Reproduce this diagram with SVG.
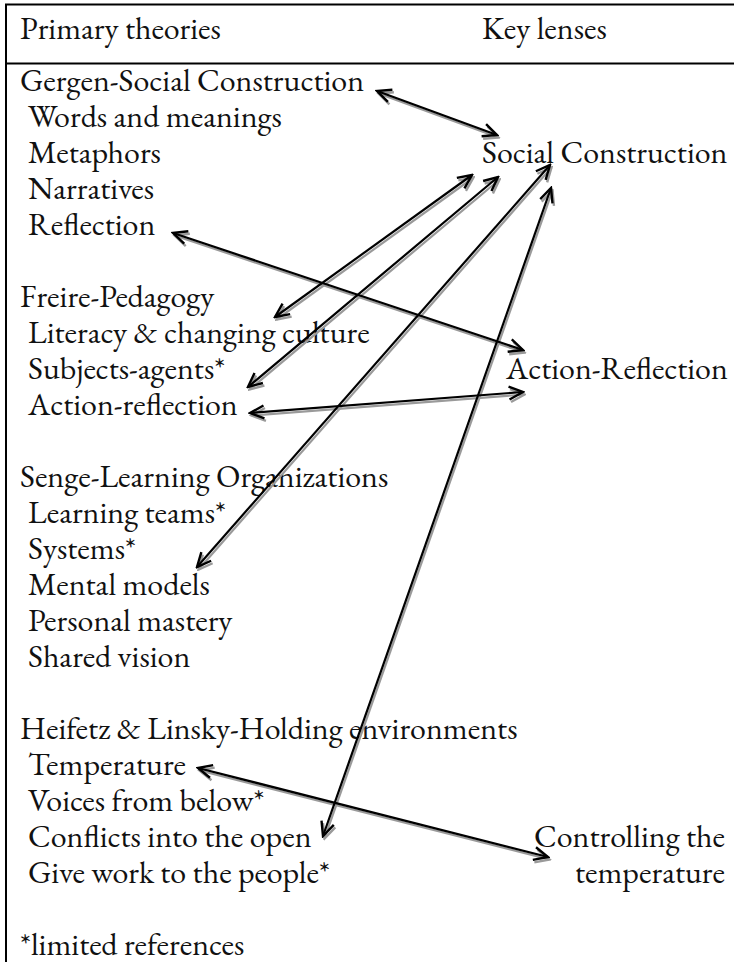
<svg xmlns="http://www.w3.org/2000/svg" width="734" height="962" viewBox="0 0 734 962">
  <style>
    text { font-family: "EB Garamond", "Liberation Serif", serif; font-size: 32px; fill: #111; }
    .rule { stroke: #000; stroke-width: 2; fill: none; }
    .link { stroke: #000; stroke-width: 2.2; fill: none; marker-start: url(#head); marker-end: url(#head); }
    .shade { stroke: #9a9a9a; stroke-width: 2.2; fill: none; marker-start: url(#headShade); marker-end: url(#headShade); }
    .r { text-anchor: end; }
  </style>
  <defs>
    <marker id="head" viewBox="0 0 18 18" refX="16" refY="9" markerWidth="18" markerHeight="18" markerUnits="userSpaceOnUse" orient="auto-start-reverse">
      <path d="M2,2.5 L16,9 L2,15.5" fill="none" stroke="#000" stroke-width="2.4"/>
    </marker>
    <marker id="headShade" viewBox="0 0 18 18" refX="16" refY="9" markerWidth="18" markerHeight="18" markerUnits="userSpaceOnUse" orient="auto-start-reverse">
      <path d="M2,2.5 L16,9 L2,15.5" fill="none" stroke="#9a9a9a" stroke-width="2.4"/>
    </marker>
  </defs>

  <rect width="734" height="962" fill="#fff"/>

  <!-- table rules -->
  <g id="table">
    <line class="rule" x1="5" y1="4.5" x2="734" y2="4.5"/>
    <line class="rule" x1="5" y1="63.5" x2="734" y2="63.5"/>
    <line class="rule" x1="6" y1="4" x2="6" y2="962"/>
  </g>

  <!-- header row -->
  <g id="header">
    <text x="20" y="39">Primary theories</text>
    <text x="482" y="39">Key lenses</text>
  </g>

  <!-- theory groups -->
  <g id="gergen">
    <text x="20" y="91">Gergen-Social Construction</text>
    <text x="28" y="127">Words and meanings</text>
    <text x="28" y="163">Metaphors</text>
    <text x="28" y="199">Narratives</text>
    <text x="28" y="235">Reflection</text>
  </g>
  <g id="freire">
    <text x="20" y="307">Freire-Pedagogy</text>
    <text x="28" y="343">Literacy &amp; changing culture</text>
    <text x="28" y="379">Subjects-agents*</text>
    <text x="28" y="415">Action-reflection</text>
  </g>
  <g id="senge">
    <text x="20" y="487">Senge-Learning Organizations</text>
    <text x="28" y="523">Learning teams*</text>
    <text x="28" y="559">Systems*</text>
    <text x="28" y="595">Mental models</text>
    <text x="28" y="631">Personal mastery</text>
    <text x="28" y="667">Shared vision</text>
  </g>
  <g id="heifetz">
    <text x="20" y="739">Heifetz &amp; Linsky-Holding environments</text>
    <text x="28" y="775">Temperature</text>
    <text x="28" y="811">Voices from below*</text>
    <text x="28" y="847">Conflicts into the open</text>
    <text x="28" y="883">Give work to the people*</text>
  </g>
  <g id="footnote">
    <text x="20" y="955">*limited references</text>
  </g>

  <!-- key lenses -->
  <g id="lens-social">
    <text x="482" y="163">Social Construction</text>
  </g>
  <g id="lens-action">
    <text x="506" y="379">Action-Reflection</text>
  </g>
  <g id="lens-temperature">
    <text class="r" x="725" y="847">Controlling the</text>
    <text class="r" x="725" y="883">temperature</text>
  </g>

  <!-- connectors: shadow copy first, black line on top -->
  <g id="connectors">
    <g transform="translate(1.5,2.5)">
      <line class="shade" x1="377" y1="91" x2="497" y2="135"/>
      <line class="shade" x1="173" y1="233" x2="523" y2="350"/>
      <line class="shade" x1="275" y1="317" x2="472" y2="175"/>
      <line class="shade" x1="248" y1="387" x2="498" y2="177"/>
      <line class="shade" x1="250" y1="413" x2="523" y2="392"/>
      <line class="shade" x1="197" y1="567" x2="550" y2="165"/>
      <line class="shade" x1="323" y1="836" x2="551" y2="188"/>
      <line class="shade" x1="198" y1="768" x2="548" y2="857"/>
    </g>
    <line class="link" x1="377" y1="91" x2="497" y2="135"/>
    <line class="link" x1="173" y1="233" x2="523" y2="350"/>
    <line class="link" x1="275" y1="317" x2="472" y2="175"/>
    <line class="link" x1="248" y1="387" x2="498" y2="177"/>
    <line class="link" x1="250" y1="413" x2="523" y2="392"/>
    <line class="link" x1="197" y1="567" x2="550" y2="165"/>
    <line class="link" x1="323" y1="836" x2="551" y2="188"/>
    <line class="link" x1="198" y1="768" x2="548" y2="857"/>
  </g>
</svg>
